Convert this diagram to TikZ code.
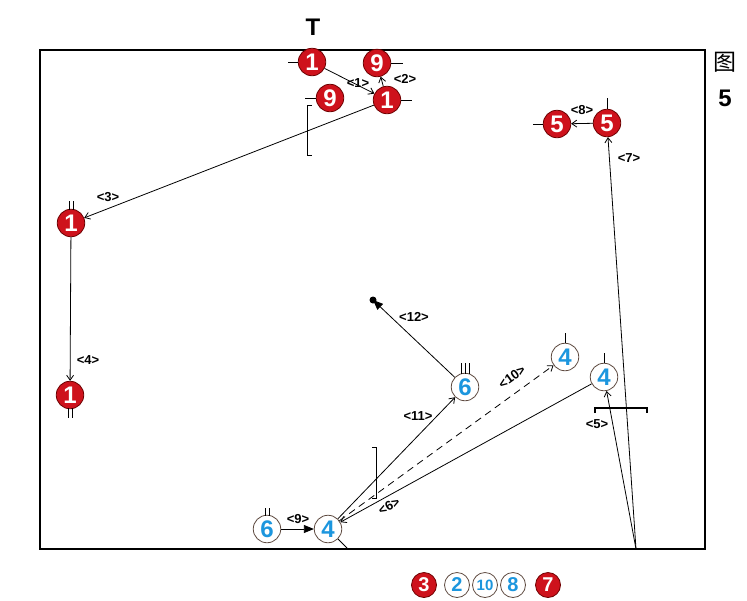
\documentclass[tikz,border=0pt]{standalone}
\usepackage{fontspec}
\setmainfont{Liberation Sans}
\newfontfamily\cjk{Noto Sans CJK SC}
\usetikzlibrary{arrows.meta}
\definecolor{rfill}{RGB}{206,18,28}
\definecolor{rline}{RGB}{110,0,0}
\definecolor{bnum}{RGB}{28,150,222}
\definecolor{bline}{RGB}{95,75,65}
\tikzset{
  redc/.style={circle, fill=rfill, draw=rline, line width=0.8pt, minimum size=27.5pt, inner sep=0pt,
    text=white, font=\fontsize{24}{24}\selectfont\bfseries},
  bluec/.style={circle, fill=white, draw=bline, line width=0.8pt, minimum size=27.5pt, inner sep=0pt,
    text=bnum, font=\fontsize{24}{24}\selectfont\bfseries},
  legred/.style={redc, minimum size=25pt, font=\fontsize{20}{20}\selectfont\bfseries},
  legblue/.style={bluec, minimum size=25pt, font=\fontsize{20}{20}\selectfont\bfseries},
  lbl/.style={font=\fontsize{13}{13}\selectfont\bfseries, inner sep=0pt},
  conn/.style={line width=0.8pt, -{Straight Barb[length=5pt,width=7pt]}},
  connf/.style={line width=0.8pt, -{Triangle[length=10pt,width=8pt]}},
  tick/.style={line width=0.8pt},
  frame/.style={line width=2.4pt},
}
\begin{document}
\begin{tikzpicture}[x=1pt,y=-1pt]
\useasboundingbox (0,0) rectangle (747,600);
\fill[white] (0,0) rectangle (747,600);
% frame
\draw[frame] (40,50) rectangle (705,549);
\node[font=\fontsize{24}{24}\selectfont\bfseries] (tlabel) at (313,27) {T};
\node[font=\cjk\fontsize{23}{23}\selectfont] (tu) at (725,62) {图};
\node[font=\fontsize{24}{24}\selectfont\bfseries] (five) at (725,98) {5};

% top group
\node[redc] (r1a) at (312,62) {1};
\node[redc] (r9a) at (377,63) {9};
\node[redc] (r9b) at (330,98) {9};
\node[redc] (r1b) at (387,100) {1};
\coordinate (t1) at (288,62);
\coordinate (t2) at (403,63);
\coordinate (t3) at (305,98);
\coordinate (t4) at (412,100);
\draw[tick] (t1) -- (r1a.west);
\draw[tick] (r9a.east) -- (t2);
\draw[tick] (t3) -- (r9b.west);
\draw[tick] (r1b.east) -- (t4);
\draw[conn] (r1a) -- (r1b);
\draw[conn] (r1b) -- (r9a);
\node[lbl] (l1) at (358,83) {<1>};
\node[lbl] (l2) at (405,79) {<2>};
\draw[tick] (312,105) -- (307,105) -- (307,155) -- (312,155);

% left column
\node[redc] (r1c) at (71,223) {1};
\node[redc] (r1d) at (70,395) {1};
\draw[tick] (69,201) -- (69,210);
\draw[tick] (73,201) -- (73,210);
\draw[tick] (68,408) -- (68,418);
\draw[tick] (72,408) -- (72,418);
\draw[conn] (r1b) -- (r1c);
\draw[conn] (r1c) -- (r1d);
\node[lbl] (l3) at (108,197) {<3>};
\node[lbl] (l4) at (88,360) {<4>};

% right top
\node[redc] (r5a) at (607,123) {5};
\node[redc] (r5b) at (557,124) {5};
\coordinate (t5) at (607,98);
\coordinate (t6) at (533,124);
\draw[tick] (t5) -- (r5a.north);
\draw[tick] (t6) -- (r5b.west);
\draw[conn] (r5a) -- (r5b);
\node[lbl] (l8) at (582,110) {<8>};
\coordinate (base) at (636,549);
\draw[conn] (base) -- (r5a);
\node[lbl] (l7) at (629,158) {<7>};

% blue fours on the right
\node[bluec] (b4b) at (565,357) {4};
\node[bluec] (b4c) at (604,377) {4};
\coordinate (t7) at (565,333);
\coordinate (t8) at (604,353);
\draw[tick] (t7) -- (b4b.north);
\draw[tick] (t8) -- (b4c.north);
\draw[conn] (base) -- (b4c);
\node[lbl] (l5) at (597,424) {<5>};
\draw[line width=1.4pt] (595,413) -- (595,408) -- (647,408) -- (647,413);

% middle
\node[bluec] (b6a) at (465,387) {6};
\draw[tick] (461,363) -- (461,374);
\draw[tick] (465,363) -- (465,374);
\draw[tick] (469,363) -- (469,374);
\fill (373,300) circle (3.5pt);
\coordinate (dot) at (373,300);
\draw[connf] (b6a) -- (dot);
\node[lbl] (l12) at (414,317) {<12>};

% bottom
\node[bluec] (b4a) at (328,529) {4};
\node[bluec] (b6b) at (267,529) {6};
\draw[tick] (b4a.-45) -- (347,548);
\draw[tick] (265,508) -- (265,516);
\draw[tick] (269,508) -- (269,516);
\draw[connf] (b6b) -- (b4a);
\node[lbl] (l9) at (298,519) {<9>};
\draw[conn] (b4a) -- (b6a);
\node[lbl] (l11) at (418,416) {<11>};
\draw[tick] (372,447) -- (376,447) -- (376,498) -- (372,498);
\draw[conn] (b4c) -- (b4a);
\node[lbl, rotate=29] (l6) at (389,506) {<6>};
\draw[conn, dashed, dash pattern=on 7pt off 5pt] (b4a) -- (b4b);
\node[lbl, rotate=36] (l10) at (512,377) {<10>};

% legend
\node[legred] (g3) at (424,585) {3};
\node[legblue] (g2) at (457,585) {2};
\node[legblue, font=\fontsize{15}{15}\selectfont\bfseries] (g10) at (485,585) {10};
\node[legblue] (g8) at (513,585) {8};
\node[legred] (g7) at (548,585) {7};
\end{tikzpicture}
\end{document}
